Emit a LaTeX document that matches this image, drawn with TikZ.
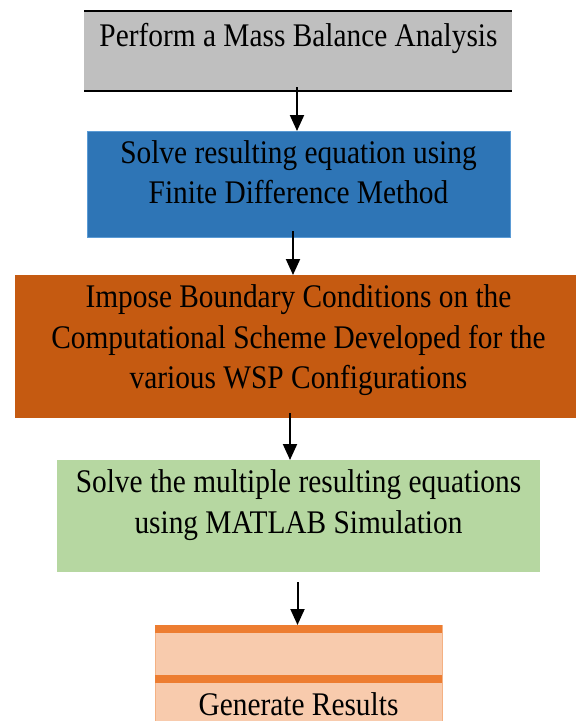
\documentclass[tikz,border=0pt]{standalone}
\usepackage{fontspec}
\setmainfont{Liberation Serif}[FakeStretch=0.89]
\usetikzlibrary{arrows.meta}
\definecolor{grayfill}{HTML}{BFBFBF}
\definecolor{bluefill}{HTML}{2E75B6}
\definecolor{blueedge}{HTML}{5B9BD5}
\definecolor{brownfill}{HTML}{C55A11}
\definecolor{greenfill}{HTML}{B6D7A1}
\definecolor{peachfill}{HTML}{F8CBAD}
\definecolor{peachedge}{HTML}{F4B183}
\definecolor{bandcol}{HTML}{ED7D31}
\begin{document}
\begin{tikzpicture}[x=1pt,y=-1pt,
  box/.style={draw=none, inner sep=0pt, outer sep=0pt},
  txt/.style={inner sep=0pt, anchor=base, font=\fontsize{33}{40.5}\selectfont},
  arr/.style={line width=2pt, -{Triangle[width=14pt,length=16pt]}},
  rule/.style={line width=2pt, black}]
\useasboundingbox (0,0) rectangle (576,721);
\clip (0,0) rectangle (576,721);
% boxes
\node[box, fill=grayfill, minimum width=428pt, minimum height=80pt] (b1) at (298,51) {};
\node[box, fill=bluefill, draw=blueedge, line width=0.8pt, minimum width=423pt, minimum height=106pt] (b2) at (298.5,184) {};
\node[box, fill=brownfill, minimum width=565pt, minimum height=143pt] (b3) at (297.5,346.5) {};
\node[box, fill=greenfill, minimum width=483pt, minimum height=112pt] (b4) at (298.5,516) {};
\node[box, fill=peachfill, draw=peachedge, line width=1pt, minimum width=287pt, minimum height=110pt] (b5) at (298.5,680) {};
% rules on the grey box
\draw[rule] (b1.north west) -- (b1.north east);
\draw[rule] (b1.south west) -- (b1.south east);
% orange bands on the last box
\fill[bandcol] (b5.north west) rectangle ([yshift=-8pt]b5.north east);
\fill[bandcol] (155,675) rectangle (442,683);
% arrows
\coordinate (s1) at (297,87);
\draw[arr] (s1) -- (s1 |- b2.north);
\coordinate (s2) at (293,231);
\draw[arr] (s2) -- (s2 |- b3.north);
\coordinate (s3) at (290,413);
\draw[arr] (s3) -- (s3 |- b4.north);
\coordinate (s4) at (297.5,582);
\draw[arr] (s4) -- (s4 |- b5.north);
% texts
\node[txt] (t1) at (298.5,46) {Perform a Mass Balance Analysis};
\node[txt] (t2a) at (298.5,163) {Solve resulting equation using};
\node[txt] (t2b) at (298.5,203) {Finite Difference Method};
\node[txt] (t3a) at (298.5,307) {Impose Boundary Conditions on the};
\node[txt] (t3b) at (298.5,348) {Computational Scheme Developed for the};
\node[txt] (t3c) at (298.5,388) {various WSP Configurations};
\node[txt] (t4a) at (298.5,492) {Solve the multiple resulting equations};
\node[txt] (t4b) at (298.5,533) {using MATLAB Simulation};
\node[txt, text depth=0pt] (t5) at (298.5,715) {Generate Results};
\end{tikzpicture}
\end{document}
